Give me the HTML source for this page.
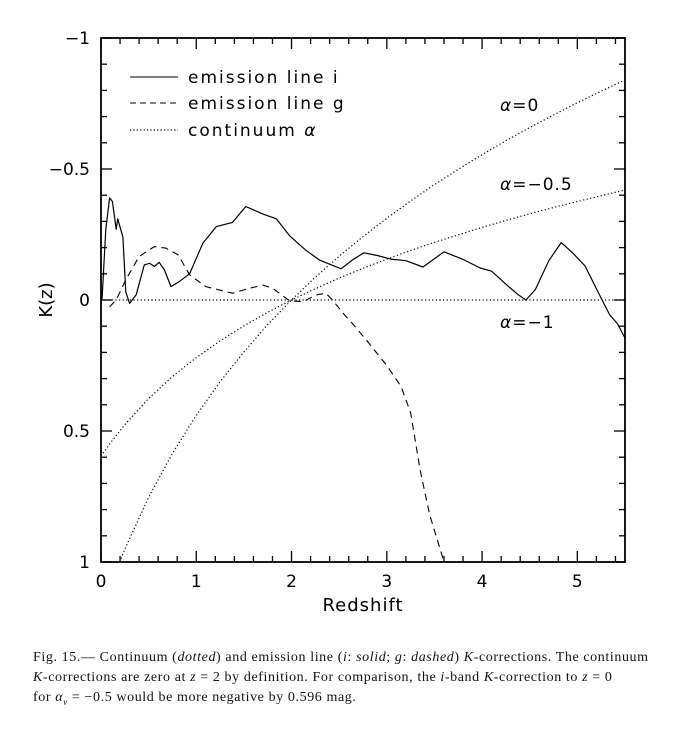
<!DOCTYPE html>
<html><head><meta charset="utf-8"><style>
body{margin:0;background:#fff;width:691px;height:738px;overflow:hidden}
svg{display:block}
.cap{position:absolute;left:33px;top:648px;width:660px;font:14px "Liberation Serif",serif;letter-spacing:0.6px;line-height:20px;color:#111;white-space:nowrap}
sub{line-height:0;font-size:9px}
</style></head><body>
<svg id="chart" width="691" height="640" xmlns="http://www.w3.org/2000/svg" font-family="DejaVu Sans, Liberation Sans, sans-serif">
<defs><clipPath id="clip"><rect x="101" y="38" width="524" height="524"/></clipPath></defs>
<g id="ticks"></g>
<g id="series" clip-path="url(#clip)"></g>
<rect x="101" y="38" width="524" height="524" fill="none" stroke="#000" stroke-width="1.8"/>
<g font-size="17" letter-spacing="2">
<line x1="130" y1="77" x2="178" y2="77" stroke="#000" stroke-width="1.1"/>
<text x="188" y="83">emission line i</text>
<line x1="130" y1="103" x2="178" y2="103" stroke="#000" stroke-width="1.1" stroke-dasharray="6,4"/>
<text x="188" y="109">emission line g</text>
<line x1="130" y1="130" x2="178" y2="130" stroke="#000" stroke-width="1.2" stroke-dasharray="1.2,2.2"/>
<text x="188" y="136">continuum <tspan font-style="italic">α</tspan></text>
</g>
<g font-size="17" letter-spacing="1">
<text x="500" y="111"><tspan font-style="italic">α</tspan>=0</text>
<text x="500" y="190"><tspan font-style="italic">α</tspan>=−0.5</text>
<text x="500" y="328"><tspan font-style="italic">α</tspan>=−1</text>
</g>
<g id="labels" font-size="17"></g>
<text x="363" y="611" font-size="18" letter-spacing="1" text-anchor="middle">Redshift</text>
<text transform="translate(52,300) rotate(-90)" font-size="18" text-anchor="middle">K(z)</text>
</svg>
<div class="cap">Fig. 15.— Continuum (<i>dotted</i>) and emission line (<i>i</i>: <i>solid</i>; <i>g</i>: <i>dashed</i>) <i>K</i>-corrections. The continuum<br><i>K</i>-corrections are zero at <i>z</i> = 2 by definition. For comparison, the <i>i</i>-band <i>K</i>-correction to <i>z</i> = 0<br>for <i>α<sub>ν</sub></i> = −0.5 would be more negative by 0.596 mag.</div>
<script>
const xTicks=[0,1,2,3,4,5];
const yTicks=[-1,-0.5,0,0.5,1];
const yTickLabels=["−1","−0.5","0","0.5","1"];
const contZ=[0,0.1,0.25,0.5,0.75,1,1.25,1.5,1.75,2,2.25,2.5,2.75,3,3.25,3.5,3.75,4,4.25,4.5,4.75,5,5.25,5.5];
const contA0=[1.193,1.089,0.951,0.753,0.585,0.440,0.312,0.198,0.094,0,-0.087,-0.167,-0.242,-0.312,-0.378,-0.440,-0.499,-0.555,-0.608,-0.658,-0.706,-0.753,-0.797,-0.840];
const contA05=[0.596,0.545,0.476,0.376,0.292,0.220,0.156,0.099,0.047,0,-0.043,-0.084,-0.121,-0.156,-0.189,-0.220,-0.249,-0.277,-0.304,-0.329,-0.353,-0.376,-0.398,-0.420];
const contA1=[0,0,0,0,0,0,0,0,0,0,0,0,0,0,0,0,0,0,0,0,0,0,0,0];
const iZ=[0,0.01,0.05,0.09,0.12,0.16,0.175,0.23,0.26,0.30,0.37,0.455,0.51,0.56,0.61,0.665,0.735,0.82,0.93,1.07,1.21,1.38,1.52,1.70,1.84,1.98,2.15,2.29,2.52,2.64,2.76,2.9,3.04,3.2,3.38,3.6,3.8,3.98,4.1,4.26,4.38,4.46,4.56,4.7,4.83,4.95,5.08,5.26,5.34,5.42,5.5];
const iK=[0,0,-0.27,-0.39,-0.376,-0.27,-0.31,-0.24,-0.03,0.013,-0.02,-0.134,-0.14,-0.128,-0.144,-0.115,-0.051,-0.07,-0.10,-0.217,-0.28,-0.296,-0.357,-0.328,-0.31,-0.245,-0.19,-0.153,-0.119,-0.153,-0.18,-0.17,-0.156,-0.15,-0.126,-0.184,-0.155,-0.122,-0.11,-0.057,-0.02,0,-0.04,-0.15,-0.219,-0.18,-0.13,0,0.057,0.09,0.145];
const gZ=[0.09,0.16,0.26,0.40,0.56,0.68,0.81,0.93,1.10,1.38,1.56,1.70,1.80,1.98,2.12,2.26,2.36,2.43,2.54,2.64,2.8,3.0,3.15,3.25,3.35,3.45,3.6];
const gK=[0.026,0,-0.077,-0.166,-0.204,-0.198,-0.172,-0.096,-0.051,-0.026,-0.045,-0.057,-0.045,0.003,0.006,-0.019,-0.026,0,0.05,0.09,0.16,0.25,0.33,0.43,0.65,0.82,1.0];
const NS="http://www.w3.org/2000/svg";
const X=z=>101+z*95.27, Y=k=>300+k*262;
const tg=document.getElementById('ticks'), lg=document.getElementById('labels'), sg=document.getElementById('series');
function ln(x1,y1,x2,y2){const l=document.createElementNS(NS,'line');l.setAttribute('x1',x1);l.setAttribute('y1',y1);l.setAttribute('x2',x2);l.setAttribute('y2',y2);l.setAttribute('stroke','#000');l.setAttribute('stroke-width','1.3');


tg.appendChild(l);}
for(let i=0;i<=27;i++){const z=i*0.2,x=X(z),L=(i%5==0)?11:6;ln(x,562,x,562-L);ln(x,38,x,38+L);}
for(let i=0;i<=20;i++){const k=-1+i*0.1,y=Y(k),L=(i%5==0)?11:6;ln(101,y,101+L,y);ln(625,y,625-L,y);}
xTicks.forEach(v=>{const t=document.createElementNS(NS,'text');t.setAttribute('x',X(v));t.setAttribute('y',587);t.setAttribute('text-anchor','middle');t.textContent=v;


lg.appendChild(t);});
yTicks.forEach((v,i)=>{const t=document.createElementNS(NS,'text');t.setAttribute('x',90);t.setAttribute('y',Y(v)+6);t.setAttribute('text-anchor','end');t.textContent=yTickLabels[i];


lg.appendChild(t);});
function path(zs,ks,dash,name,w){const p=document.createElementNS(NS,'path');p.setAttribute('d',zs.map((z,i)=>(i?'L':'M')+X(z).toFixed(1)+','+Y(ks[i]).toFixed(1)).join(''));p.setAttribute('fill','none');p.setAttribute('stroke','#000');p.setAttribute('stroke-width',w);p.setAttribute('stroke-linejoin','round');if(dash)p.setAttribute('stroke-dasharray',dash);


sg.appendChild(p);}
path(contZ,contA0,'1.2,2.4','continuum-alpha-0',1.2);
path(contZ,contA05,'1.2,2.4','continuum-alpha-minus-0-5',1.2);
path(contZ,contA1,'1.2,2.4','continuum-alpha-minus-1',1.2);
path(gZ,gK,'7,5','emission-line-g',1.1);
path(iZ,iK,null,'emission-line-i',1.2);
</script>
</body></html>
